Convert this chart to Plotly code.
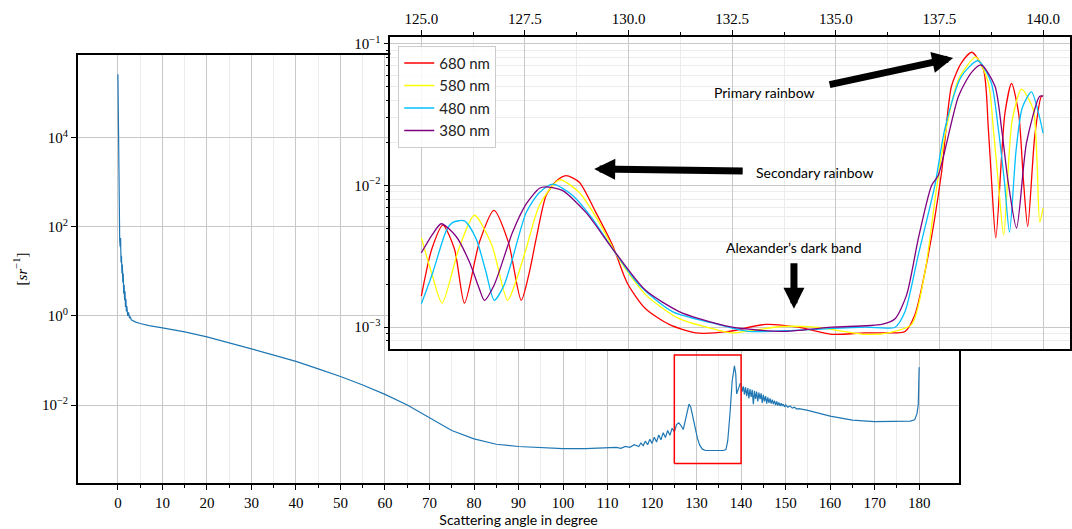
import numpy as np
import plotly.graph_objects as go

# ---------------------------------------------------------------------------
# Phase function of a water droplet over the full angular range
# (scattering angle in degrees, log10 of the phase function in sr^-1)
# ---------------------------------------------------------------------------
angle_deg = [
    0.0, 0.08, 0.15, 0.22, 0.3, 0.4, 0.5, 0.6, 0.7, 0.8, 0.9, 1.0, 1.1, 1.2,
    1.3, 1.4, 1.5, 1.6, 1.7, 1.8, 1.9, 2.0, 2.2, 2.4, 2.6, 2.8, 3.0, 3.5, 4.0,
    5, 7, 10, 15, 20, 25, 30, 35, 40, 45, 50, 55, 60, 65, 70, 75, 80, 85, 90,
    95, 100, 105, 110, 112, 113, 114, 115, 116, 117, 117.5, 118, 118.5, 119,
    119.5, 120, 120.5, 121, 121.5, 122, 122.5, 123, 123.5, 124, 124.5, 125,
    125.5, 126, 126.5, 127, 127.5, 128, 128.3, 128.7, 129.2, 129.7, 130.2,
    130.7, 131.3, 132, 133, 134, 135, 136, 136.6, 137, 137.5, 138, 138.5,
    138.8, 139.0, 139.5, 139.8,
    140.0, 140.25, 140.5, 140.75, 141.0, 141.25, 141.5, 141.75, 142.0,
    142.25, 142.5, 142.75, 143.0, 143.25, 143.5, 143.75, 144.0, 144.25,
    144.5, 144.75, 145.0, 145.25, 145.5, 145.75, 146.0, 146.25, 146.5,
    146.75, 147.0, 147.25, 147.5, 147.75, 148.0, 148.25, 148.5, 148.75,
    149.0, 149.25, 149.5, 149.75, 150.0, 150.5, 151.0, 151.5, 152.0, 152.5,
    153.0, 155, 160, 165, 170, 175, 178, 179, 179.5, 179.8, 180.0,
]
log10_phase = [
    5.42, 4.6, 3.6, 2.6, 2.0, 1.7, 1.55, 1.75, 1.2, 1.35, 0.95, 1.15, 0.75,
    0.95, 0.5, 0.7, 0.35, 0.55, 0.2, 0.38, 0.1, 0.22, 0.0, 0.08, -0.05,
    -0.02, -0.09, -0.12, -0.14, -0.17, -0.22, -0.27, -0.36, -0.47, -0.60,
    -0.74, -0.88, -1.02, -1.19, -1.36, -1.55, -1.76, -2.0, -2.29, -2.57,
    -2.76, -2.88, -2.93, -2.96, -2.98, -2.98, -2.97, -2.95, -2.97, -2.93,
    -2.95, -2.89, -2.93, -2.85, -2.91, -2.81, -2.89, -2.77, -2.86, -2.72,
    -2.83, -2.67, -2.78, -2.62, -2.73, -2.57, -2.68, -2.52, -2.60, -2.44,
    -2.40, -2.46, -2.55, -2.32, -2.05, -1.98, -2.05, -2.30, -2.55, -2.75,
    -2.90, -2.99, -3.02, -3.02, -3.02, -3.02, -3.02, -3.0, -2.8, -2.2,
    -1.46, -1.12, -1.30, -1.75, -1.60, -1.52,
    -1.53, -1.70, -1.58, -1.76, -1.60, -1.80, -1.62, -1.85, -1.64, -1.82,
    -1.66, -1.98, -1.68, -1.86, -1.70, -1.92, -1.72, -1.87, -1.74, -1.95,
    -1.77, -1.92, -1.80, -1.97, -1.83, -1.95, -1.85, -1.97, -1.88, -1.98,
    -1.90, -2.00, -1.92, -2.01, -1.94, -2.02, -1.96, -2.02, -1.98, -2.04,
    -2.00, -2.05, -2.02, -2.07, -2.05, -2.09, -2.08, -2.12, -2.25, -2.34,
    -2.37, -2.37, -2.36, -2.33, -2.20, -2.00, -1.15,
]

# region shown enlarged in the inset
zoom_box_angle = [125.0, 140.0]
zoom_box_value = [4.9e-4, 0.132]

# ---------------------------------------------------------------------------
# Rainbow region for four wavelengths (log10 of the phase function)
# ---------------------------------------------------------------------------
wavelength_labels = ["680 nm", "580 nm", "480 nm", "380 nm"]
wavelength_colors = ["#ff0000", "#ffff00", "#00bfff", "#800080"]

angle_680 = [125.0, 125.25, 125.52, 125.8, 126.04, 126.4, 126.75, 127.1,
             127.41, 127.6, 127.77, 128.01, 128.25, 128.49, 128.81, 129.21,
             129.61, 129.97, 130.41, 130.98, 131.62, 132.42, 133.3, 134.1,
             134.9, 135.7, 136.3, 136.67, 136.91, 137.23, 137.55, 137.79,
             138.03, 138.28, 138.56, 138.68, 138.76, 138.86, 139.08, 139.24,
             139.41, 139.53, 139.63, 139.8, 139.96, 140.0]
log10_680 = [-2.78, -2.45, -2.28, -2.45, -2.83, -2.40, -2.175, -2.40, -2.81,
             -2.62, -2.375, -2.07, -1.97, -1.93, -1.977, -2.19, -2.42, -2.69,
             -2.87, -2.98, -3.04, -3.03, -2.98, -3.0, -3.05, -3.04, -3.04,
             -3.03, -2.91, -2.49, -1.91, -1.30, -1.135, -1.06, -1.18, -1.60,
             -1.98, -2.37, -1.49, -1.28, -1.49, -1.98, -2.29, -1.65, -1.37,
             -1.37]

angle_580 = [125.0, 125.25, 125.5, 125.9, 126.28, 126.7, 127.08, 127.3,
             127.53, 127.85, 128.33, 128.81, 129.29, 129.77, 130.41, 131.22,
             132.02, 132.5, 133.7, 134.5, 135.71, 136.27, 136.83, 137.15,
             137.43, 137.63, 137.96, 138.38, 138.68, 138.8, 138.92, 139.05,
             139.25, 139.48, 139.76, 139.85, 139.92, 140.0]
log10_580 = [-2.37, -2.62, -2.83, -2.45, -2.21, -2.42, -2.81, -2.66, -2.445,
             -2.14, -1.96, -2.05, -2.26, -2.52, -2.77, -2.94, -3.01, -3.04,
             -2.995, -3.0, -3.05, -3.04, -2.98, -2.61, -2.02, -1.65, -1.25,
             -1.095, -1.275, -1.6, -1.98, -2.35, -1.55, -1.32, -1.46, -1.8,
             -2.26, -2.16]

angle_480 = [125.0, 125.28, 125.6, 125.76, 126.04, 126.32, 126.55, 126.76,
             127.0, 127.2, 127.53, 127.85, 128.17, 128.65, 129.13, 129.61,
             130.25, 131.06, 132.02, 132.9, 134.1, 135.7, 136.43, 136.67,
             136.99, 137.39, 137.63, 138.03, 138.43, 138.75, 138.92, 139.07,
             139.19, 139.35, 139.5, 139.72, 139.9, 140.0]
log10_480 = [-2.835, -2.61, -2.32, -2.26, -2.25, -2.375, -2.6, -2.81, -2.7,
             -2.515, -2.19, -2.05, -1.99, -2.07, -2.235, -2.445, -2.70, -2.89,
             -2.97, -3.03, -3.02, -3.0, -3.0, -2.89, -2.49, -2.0, -1.60, -1.23,
             -1.12, -1.275, -1.6, -1.98, -2.33, -1.75, -1.45, -1.34, -1.5,
             -1.63]

angle_380 = [125.0, 125.28, 125.48, 125.84, 126.16, 126.4, 126.52, 126.76,
             127.2, 127.53, 127.85, 128.0, 128.4, 128.97, 129.61, 130.41,
             131.22, 131.7, 132.5, 133.7, 134.9, 136.11, 136.43, 136.71,
             136.99, 137.31, 137.47, 137.96, 138.28, 138.51, 138.84, 139.0,
             139.16, 139.36, 139.6, 139.92, 140.0]
log10_380 = [-2.475, -2.34, -2.27, -2.36, -2.54, -2.73, -2.81, -2.70, -2.33,
             -2.13, -2.02, -2.01, -2.035, -2.19, -2.445, -2.74, -2.89, -2.94,
             -3.0, -3.03, -3.0, -2.98, -2.94, -2.77, -2.375, -2.0, -1.93,
             -1.37, -1.20, -1.15, -1.30, -1.6, -1.98, -2.30, -1.7, -1.37,
             -1.37]

inset_angles = [angle_680, angle_580, angle_480, angle_380]
inset_log10 = [log10_680, log10_580, log10_480, log10_380]

# tick labels
main_xticks = list(range(0, 181, 10))
main_xminor = list(range(5, 181, 10))
main_yticks = [1e-2, 1e0, 1e2, 1e4]
main_ylabels = ["10<sup>−2</sup>", "10<sup>0</sup>", "10<sup>2</sup>", "10<sup>4</sup>"]
inset_xticks = [125.0, 127.5, 130.0, 132.5, 135.0, 137.5, 140.0]
inset_xlabels = ["125.0", "127.5", "130.0", "132.5", "135.0", "137.5", "140.0"]
inset_xminor = [126.25, 128.75, 131.25, 133.75, 136.25, 138.75]
inset_yticks = [1e-3, 1e-2, 1e-1]
inset_ylabels = ["10<sup>−3</sup>", "10<sup>−2</sup>", "10<sup>−1</sup>"]
inset_yminor = [m * 10.0 ** e for e in (-4, -3, -2) for m in range(2, 10)]

SERIF = "Liberation Serif"
SANS = "Lato"
W, H = 1072, 529


def px_x(p):
    return p / W


def px_y(p):
    return 1 - p / H


fig = go.Figure()

fig.add_trace(go.Scatter(
    x=angle_deg, y=10.0 ** np.array(log10_phase), mode="lines",
    line=dict(color="#1f77b4", width=1.2), showlegend=False,
    xaxis="x", yaxis="y", hoverinfo="skip",
))
fig.add_trace(go.Scatter(
    x=[zoom_box_angle[0], zoom_box_angle[1], zoom_box_angle[1], zoom_box_angle[0], zoom_box_angle[0]],
    y=[zoom_box_value[0], zoom_box_value[0], zoom_box_value[1], zoom_box_value[1], zoom_box_value[0]],
    mode="lines", line=dict(color="#ff0000", width=1.5), showlegend=False,
    xaxis="x", yaxis="y", hoverinfo="skip",
))

for label, color, xs, ys in zip(wavelength_labels, wavelength_colors, inset_angles, inset_log10):
    fig.add_trace(go.Scatter(
        x=xs, y=10.0 ** np.array(ys), mode="lines", name=label,
        line=dict(color=color, width=1.3, shape="spline", smoothing=0.7),
        xaxis="x2", yaxis="y2",
    ))

axis_common = dict(
    showline=True, linecolor="black", linewidth=1.5, mirror=True,
    ticks="outside", tickcolor="black", tickwidth=1.2, ticklen=5,
    zeroline=False, showgrid=True, gridcolor="#c8c8c8", gridwidth=1.2,
    tickfont=dict(family=SERIF, size=15, color="black"),
)

fig.update_layout(
    width=W, height=H, margin=dict(l=0, r=0, t=0, b=0),
    paper_bgcolor="white", plot_bgcolor="white",
    xaxis=dict(
        axis_common, domain=[px_x(78), px_x(961)], range=[-9, 189], anchor="y",
        tickmode="array", tickvals=main_xticks,
        minor=dict(tickmode="array", tickvals=main_xminor, ticks="outside",
                   ticklen=3, tickcolor="black", showgrid=True,
                   gridcolor="#ececec", gridwidth=1),
        title=dict(text="Scattering angle in degree",
                   font=dict(family=SANS, size=14, color="black"), standoff=4),
    ),
    yaxis=dict(
        axis_common, domain=[px_y(483), px_y(52)], type="log",
        range=[-3.755, 5.86], anchor="x",
        tickmode="array", tickvals=main_yticks, ticktext=main_ylabels,
    ),
    xaxis2=dict(
        axis_common, domain=[px_x(391), 1.0], range=[124.25, 140.65],
        anchor="y2", side="top",
        tickmode="array", tickvals=inset_xticks, ticktext=inset_xlabels,
        minor=dict(tickmode="array", tickvals=inset_xminor, ticks="outside",
                   ticklen=3, tickcolor="black", showgrid=True,
                   gridcolor="#ececec", gridwidth=1),
    ),
    yaxis2=dict(
        axis_common, domain=[px_y(348), px_y(34)], type="log",
        range=[-3.154, -0.951], anchor="x2",
        tickmode="array", tickvals=inset_yticks, ticktext=inset_ylabels,
        minor=dict(tickmode="array", tickvals=inset_yminor, ticks="outside",
                   ticklen=3, tickcolor="black", showgrid=True,
                   gridcolor="#ececec", gridwidth=1),
    ),
    legend=dict(
        x=px_x(399), y=px_y(43), xanchor="left", yanchor="top",
        bgcolor="rgba(255,255,255,0.85)", bordercolor="#cccccc", borderwidth=1,
        font=dict(family=SANS, size=15, color="#222222"),
    ),
)

text_font = dict(family=SANS, size=14, color="black")
label_style = dict(xref="paper", yref="paper", showarrow=False,
                   xanchor="center", yanchor="middle", font=text_font)
arrow_style = dict(showarrow=True, arrowhead=2, arrowsize=0.6, arrowwidth=7,
                   arrowcolor="black", standoff=0, text="",
                   xref="x2", yref="y2")

annotations = [
    dict(text="[<i>sr</i><sup>−1</sup>]", x=px_x(21), y=px_y(267), xref="paper",
         yref="paper", showarrow=False, textangle=-90, xanchor="center",
         yanchor="middle", font=dict(family=SERIF, size=15, color="black")),
    dict(label_style, text="Primary rainbow", x=px_x(766), y=px_y(90)),
    dict(arrow_style, x=137.83, y=-1.10, ax=-125, ay=27),
    dict(label_style, text="Secondary rainbow", x=px_x(816), y=px_y(170)),
    dict(arrow_style, x=129.17, y=-1.883, ax=150, ay=2),
    dict(label_style, text="Alexander’s dark band", x=px_x(795), y=px_y(246)),
    dict(arrow_style, x=133.99, y=-2.87, ax=0, ay=-47),
]
fig.update_layout(annotations=annotations)

fig.write_html("out.html")
